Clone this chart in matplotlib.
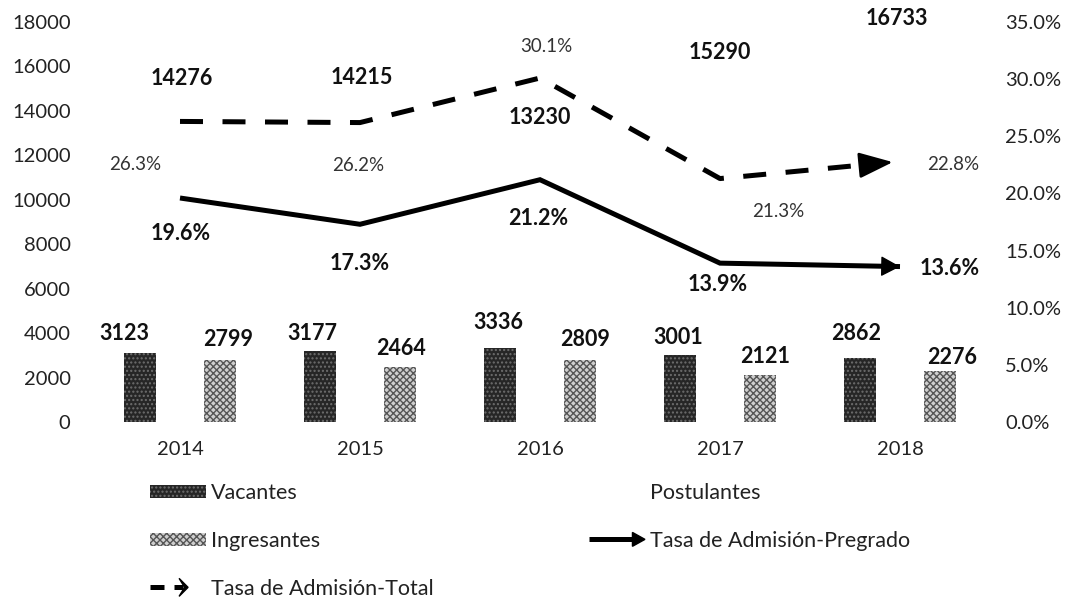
import matplotlib
matplotlib.use("Agg")
import matplotlib.pyplot as plt
import numpy as np
from matplotlib.patches import Patch, Polygon
from matplotlib.lines import Line2D
from matplotlib.legend_handler import HandlerBase

plt.rcParams['font.family'] = ['Lato', 'DejaVu Sans']

# ---------------- data ----------------
years = ['2014', '2015', '2016', '2017', '2018']
vacantes = [3123, 3177, 3336, 3001, 2862]
postulantes = [14276, 14215, 13230, 15290, 16733]
ingresantes = [2799, 2464, 2809, 2121, 2276]
tasa_pregrado = [19.6, 17.3, 21.2, 13.9, 13.6]
tasa_total = [26.3, 26.2, 30.1, 21.3, 22.8]

left_ticks = [0, 2000, 4000, 6000, 8000, 10000, 12000, 14000, 16000, 18000]
right_ticks = [0, 5, 10, 15, 20, 25, 30, 35]

# ---------------- label layout (pixel offsets: dx, dy-up) ----------------
vac_off = [(-16, 19), (-8, 18), (-2, 25), (-2, 18), (-4, 25)]
ing_off = [(8, 20), (1, 19), (5, 20), (5, 18), (12, 14)]
pos_off = [(2, 26), (2, 29), (0, 10), (0, 30), (-3, 32)]
preg_off = [(1, -36), (0, -39), (-2, -39), (-2, -21), (50, -2)]
tot_off = [(-45, -43), (-2, -43), (6, 31), (58, -33), (53, -3)]

PT = 0.72  # points per pixel at dpi 100

fig = plt.figure(figsize=(10.71, 6.05), dpi=100)
ax = fig.add_axes([90/1071, 1-422/605, 900/1071, 400/605])
ax2 = ax.twinx()

x = np.arange(len(years))
off = 0.222
w = 0.178

vac_color = '#262626'
ing_color = '#cfcfcf'

b1 = ax.bar(x - off, vacantes, w, color=vac_color, edgecolor='#6e6e6e',
            hatch='....', linewidth=0, zorder=2)
b2 = ax.bar(x, postulantes, w, color='white', linewidth=0, zorder=1)
b3 = ax.bar(x + off, ingresantes, w, color=ing_color, edgecolor='#555555',
            hatch='xxxxx', linewidth=0, zorder=2)

bold_kw = dict(fontsize=15.5, fontweight='bold', color='#111111',
               ha='center', va='center')
for i in range(len(years)):
    ax.annotate(str(vacantes[i]), (x[i] - off, vacantes[i]),
                xytext=(vac_off[i][0]*PT, vac_off[i][1]*PT),
                textcoords='offset points', **bold_kw)
    ax.annotate(str(ingresantes[i]), (x[i] + off, ingresantes[i]),
                xytext=(ing_off[i][0]*PT, ing_off[i][1]*PT),
                textcoords='offset points', **bold_kw)
    ax.annotate(str(postulantes[i]), (x[i], postulantes[i]),
                xytext=(pos_off[i][0]*PT, pos_off[i][1]*PT),
                textcoords='offset points', **bold_kw)

ax.set_xlim(-0.5, len(years) - 0.5)
ax.set_ylim(0, 18000)
ax.set_yticks(left_ticks)
ax.set_yticklabels([str(t) for t in left_ticks])
ax.set_xticks(x)
ax.set_xticklabels(years)

ax2.set_ylim(0, 35)
ax2.set_yticks(right_ticks)
ax2.set_yticklabels([f'{t:.1f}%' for t in right_ticks])

for a in (ax, ax2):
    for s in a.spines.values():
        s.set_visible(False)
    a.tick_params(length=0, labelsize=14.5, labelcolor='#222222')
ax.tick_params(axis='y', pad=14)
ax.tick_params(axis='x', pad=14)
ax2.tick_params(axis='y', pad=11)

# lines
ax2.plot(x, tasa_pregrado, color='black', lw=3.6, solid_joinstyle='miter',
         solid_capstyle='butt', zorder=3)
ax2.plot(x[:-1].tolist() + [x[-1] - 0.1],
         tasa_total[:-1] + [tasa_total[-2] + (tasa_total[-1]-tasa_total[-2])*0.9],
         color='black', lw=3.6, dashes=(4.6, 3.9), dash_capstyle='butt', zorder=3)

# arrow heads
ax2.annotate('', xy=(x[-1], tasa_pregrado[-1]),
             xytext=(x[-1] - 0.1, tasa_pregrado[-1] + (tasa_pregrado[-2]-tasa_pregrado[-1])*0.1),
             arrowprops=dict(arrowstyle='-|>,head_length=0.6,head_width=0.32',
                             color='black', lw=1, mutation_scale=20,
                             shrinkA=0, shrinkB=0), zorder=4)
ax2.annotate('', xy=(x[-1] - 0.04, tasa_total[-1] - (tasa_total[-1]-tasa_total[-2])*0.04),
             xytext=(x[-1] - 0.2, tasa_total[-1] - (tasa_total[-1]-tasa_total[-2])*0.2),
             arrowprops=dict(arrowstyle='-|>,head_length=1.05,head_width=0.4',
                             color='black', lw=2, mutation_scale=20,
                             shrinkA=0, shrinkB=0), zorder=4)

for i in range(len(years)):
    ax2.annotate(f'{tasa_pregrado[i]:.1f}%', (x[i], tasa_pregrado[i]),
                 xytext=(preg_off[i][0]*PT, preg_off[i][1]*PT),
                 textcoords='offset points', **bold_kw)
    ax2.annotate(f'{tasa_total[i]:.1f}%', (x[i], tasa_total[i]),
                 xytext=(tot_off[i][0]*PT, tot_off[i][1]*PT),
                 textcoords='offset points', fontsize=13.5, color='#333333',
                 ha='center', va='center')


# ---------------- legend ----------------
class ArrowHandler(HandlerBase):
    def __init__(self, dashed=False):
        super().__init__()
        self.dashed = dashed

    def create_artists(self, legend, orig_handle, xdescent, ydescent,
                       width, height, fontsize, trans):
        y = height / 2 - ydescent
        x0 = -xdescent
        arts = []
        if self.dashed:
            l = Line2D([x0 + 0.0*width, x0 + 0.25*width], [y, y],
                       color='black', lw=3.6, solid_capstyle='butt')
            hx0, hx1, hh = x0 + 0.42*width, x0 + 0.68*width, 6.5
            arts.append(l)
            arts.append(Line2D([hx0, hx1 - 4], [y, y], color='black', lw=3.6,
                               solid_capstyle='butt'))
            head = Polygon([[hx0 + 4, y - hh], [hx1, y], [hx0 + 4, y + hh],
                            [hx0 + 8, y]], closed=True, color='black')
            arts.append(head)
        else:
            hl = 9
            l = Line2D([x0, x0 + width - hl], [y, y], color='black', lw=3.6,
                       solid_capstyle='butt')
            head = Polygon([[x0 + width - hl, y - 5], [x0 + width, y],
                            [x0 + width - hl, y + 5]], closed=True, color='black')
            arts = [l, head]
        for a in arts:
            a.set_transform(trans)
        return arts


class DashedKey:
    pass


class SolidKey:
    pass


h_vac = Patch(facecolor=vac_color, edgecolor='#6e6e6e', hatch='....', linewidth=0)
h_ing = Patch(facecolor=ing_color, edgecolor='#555555', hatch='xxxxx', linewidth=0)
h_pos = Patch(facecolor='white', edgecolor='white', linewidth=0)
h_tot = DashedKey()
h_preg = SolidKey()

handles = [h_vac, h_ing, h_tot, h_pos, h_preg]
labels = ['Vacantes', 'Ingresantes', 'Tasa de Admisión-Total',
          'Postulantes', 'Tasa de Admisión-Pregrado']
leg = fig.legend(handles, labels, ncol=2,
                 handler_map={DashedKey: ArrowHandler(dashed=True),
                              SolidKey: ArrowHandler(dashed=False)},
                 loc='upper left', bbox_to_anchor=(150/1071, 1 - 483/605),
                 frameon=False, fontsize=15.5, handlelength=2.6,
                 handleheight=0.55, handletextpad=0.25, borderpad=0,
                 borderaxespad=0, labelspacing=1.3, columnspacing=7.2,
                 labelcolor='#222222')

fig.savefig('out.png', dpi=100)
